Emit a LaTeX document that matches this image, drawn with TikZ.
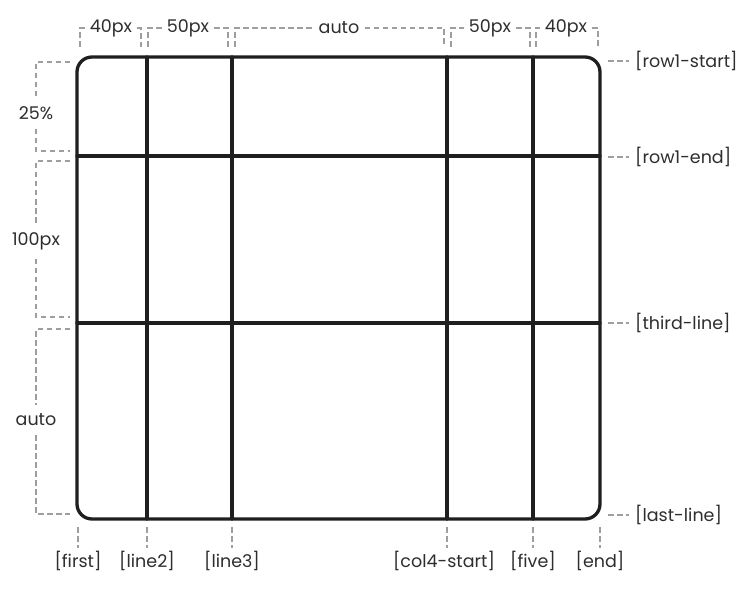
\documentclass[tikz,border=0pt]{standalone}
\usepackage{fontspec}
\setmainfont{Poppins}
\begin{document}
\begin{tikzpicture}[x=1pt,y=-1pt,
  gridline/.style={line width=3.3pt, black!88, line cap=round},
  dim/.style={black!38, dash pattern=on 5.5pt off 3.5pt, line width=1.2pt},
  lbl/.style={font=\fontsize{17.5}{20}\selectfont, text=black!82, inner sep=0pt},
  toplbl/.style={lbl, inner xsep=5pt},
  sidelbl/.style={lbl, inner ysep=9pt}]
\useasboundingbox[fill=white] (0,0) rectangle (742,599);
% grid frame
\coordinate (tl) at (77,57);
\coordinate (br) at (600,519);
\draw[gridline, rounded corners=15pt] (tl) rectangle (br);
% vertical lines
\coordinate (v2t) at (147,57); \coordinate (v2b) at (147,519);
\coordinate (v3t) at (232,57); \coordinate (v3b) at (232,519);
\coordinate (v4t) at (447,57); \coordinate (v4b) at (447,519);
\coordinate (v5t) at (533,57); \coordinate (v5b) at (533,519);
\draw[gridline] (v2t) -- (v2b);
\draw[gridline] (v3t) -- (v3b);
\draw[gridline] (v4t) -- (v4b);
\draw[gridline] (v5t) -- (v5b);
% horizontal lines
\coordinate (h2l) at (77,156); \coordinate (h2r) at (600,156);
\coordinate (h3l) at (77,323); \coordinate (h3r) at (600,323);
\draw[gridline] (h2l) -- (h2r);
\draw[gridline] (h3l) -- (h3r);

% top size labels
\node[toplbl] (w1) at (111,28) {40px};
\node[toplbl] (w2) at (188,28) {50px};
\node[toplbl] (w3) at (339,28) {auto};
\node[toplbl] (w4) at (490,28) {50px};
\node[toplbl] (w5) at (566,28) {40px};
\draw[dim] (80,47) |- (w1.west);  \draw[dim] (w1.east) -| (141,47);
\draw[dim] (148,47) |- (w2.west); \draw[dim] (w2.east) -| (228,47);
\draw[dim] (235,47) |- (w3.west); \draw[dim] (w3.east) -| (444,47);
\draw[dim] (451,47) |- (w4.west); \draw[dim] (w4.east) -| (530,47);
\draw[dim] (536,47) |- (w5.west); \draw[dim] (w5.east) -| (598,47);

% left size labels
\node[sidelbl] (r1) at (36,113) {25\%};
\node[sidelbl] (r2) at (36,241) {100px};
\node[sidelbl] (r3) at (36,420) {auto};
\draw[dim] (70,62) -| (r1.north);  \draw[dim] (r1.south) |- (70,151);
\draw[dim] (70,161) -| (r2.north); \draw[dim] (r2.south) |- (70,317);
\draw[dim] (70,329) -| (r3.north); \draw[dim] (r3.south) |- (70,514);

% right line names
\node[lbl, anchor=west] (n1) at (635,61) {[row1-start]};
\node[lbl, anchor=west] (n2) at (635,157) {[row1-end]};
\node[lbl, anchor=west] (n3) at (635,323) {[third-line]};
\node[lbl, anchor=west] (n4) at (635,515) {[last-line]};
\draw[dim] (608,61) -- ([xshift=-6pt]n1.west);
\draw[dim] (608,157) -- ([xshift=-6pt]n2.west);
\draw[dim] (608,323) -- ([xshift=-6pt]n3.west);
\draw[dim] (608,515) -- ([xshift=-6pt]n4.west);

% bottom line names
\node[lbl] (b1) at (78,561) {[first]};
\node[lbl] (b2) at (147,561) {[line2]};
\node[lbl] (b3) at (232,561) {[line3]};
\node[lbl] (b4) at (444,561) {[col4-start]};
\node[lbl] (b5) at (533,561) {[five]};
\node[lbl] (b6) at (600,561) {[end]};
\draw[dim] (78,527) -- (78,548);
\draw[dim] (147,527) -- (147,548);
\draw[dim] (232,527) -- (232,548);
\draw[dim] (447,527) -- (447,548);
\draw[dim] (533,527) -- (533,548);
\draw[dim] (600,527) -- (600,548);
\end{tikzpicture}
\end{document}
